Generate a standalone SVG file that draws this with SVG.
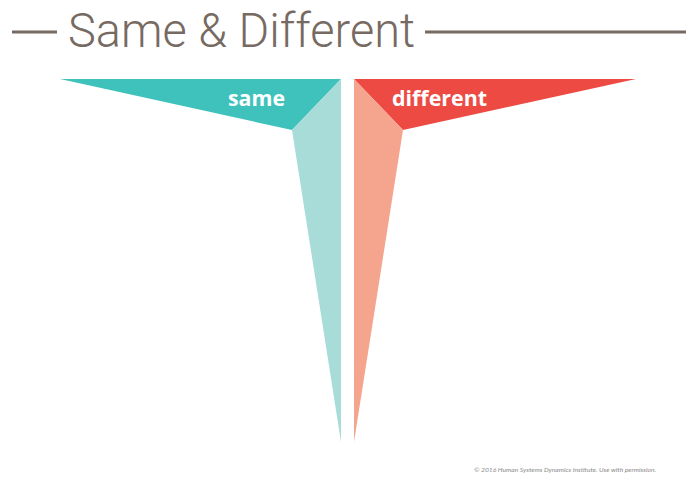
<svg xmlns="http://www.w3.org/2000/svg" width="686" height="481" viewBox="0 0 686 481">
<style>
.rule{stroke:#766a62;stroke-width:3}
.lbl{font-family:"Open Sans","Liberation Sans",sans-serif;font-weight:bold;font-size:21px;fill:#ffffff;text-anchor:middle}
</style>
<rect width="686" height="481" fill="#ffffff"/>
<g id="title">
<line class="rule" x1="12" y1="32" x2="57" y2="32"/>
<line class="rule" x1="425" y1="32" x2="686" y2="32"/>
<text x="68" y="47" font-family="Roboto,'Liberation Sans',sans-serif" font-weight="300" font-size="48" fill="#766a62" textLength="347" lengthAdjust="spacingAndGlyphs">Same &amp; Different</text>
</g>
<g id="same">
<polygon points="60,79 341,79 292,130" fill="#3fc2bc"/>
<polygon points="341,79 292,130 341,442" fill="#a8dcd9"/>
<text class="lbl" x="256.5" y="106" textLength="57" lengthAdjust="spacingAndGlyphs">same</text>
</g>
<g id="different">
<polygon points="354,79 636,79 403,130" fill="#ec4a43"/>
<polygon points="354,79 403,130 354,442" fill="#f5a48e"/>
<text class="lbl" x="439.5" y="106" textLength="95" lengthAdjust="spacingAndGlyphs">different</text>
</g>
<text x="474" y="472" font-family="Lato,'Liberation Sans',sans-serif" font-style="italic" font-size="6.5" fill="#8a8a8a" textLength="182" lengthAdjust="spacingAndGlyphs">© 2016 Human Systems Dynamics Institute. Use with permission.</text>
</svg>
